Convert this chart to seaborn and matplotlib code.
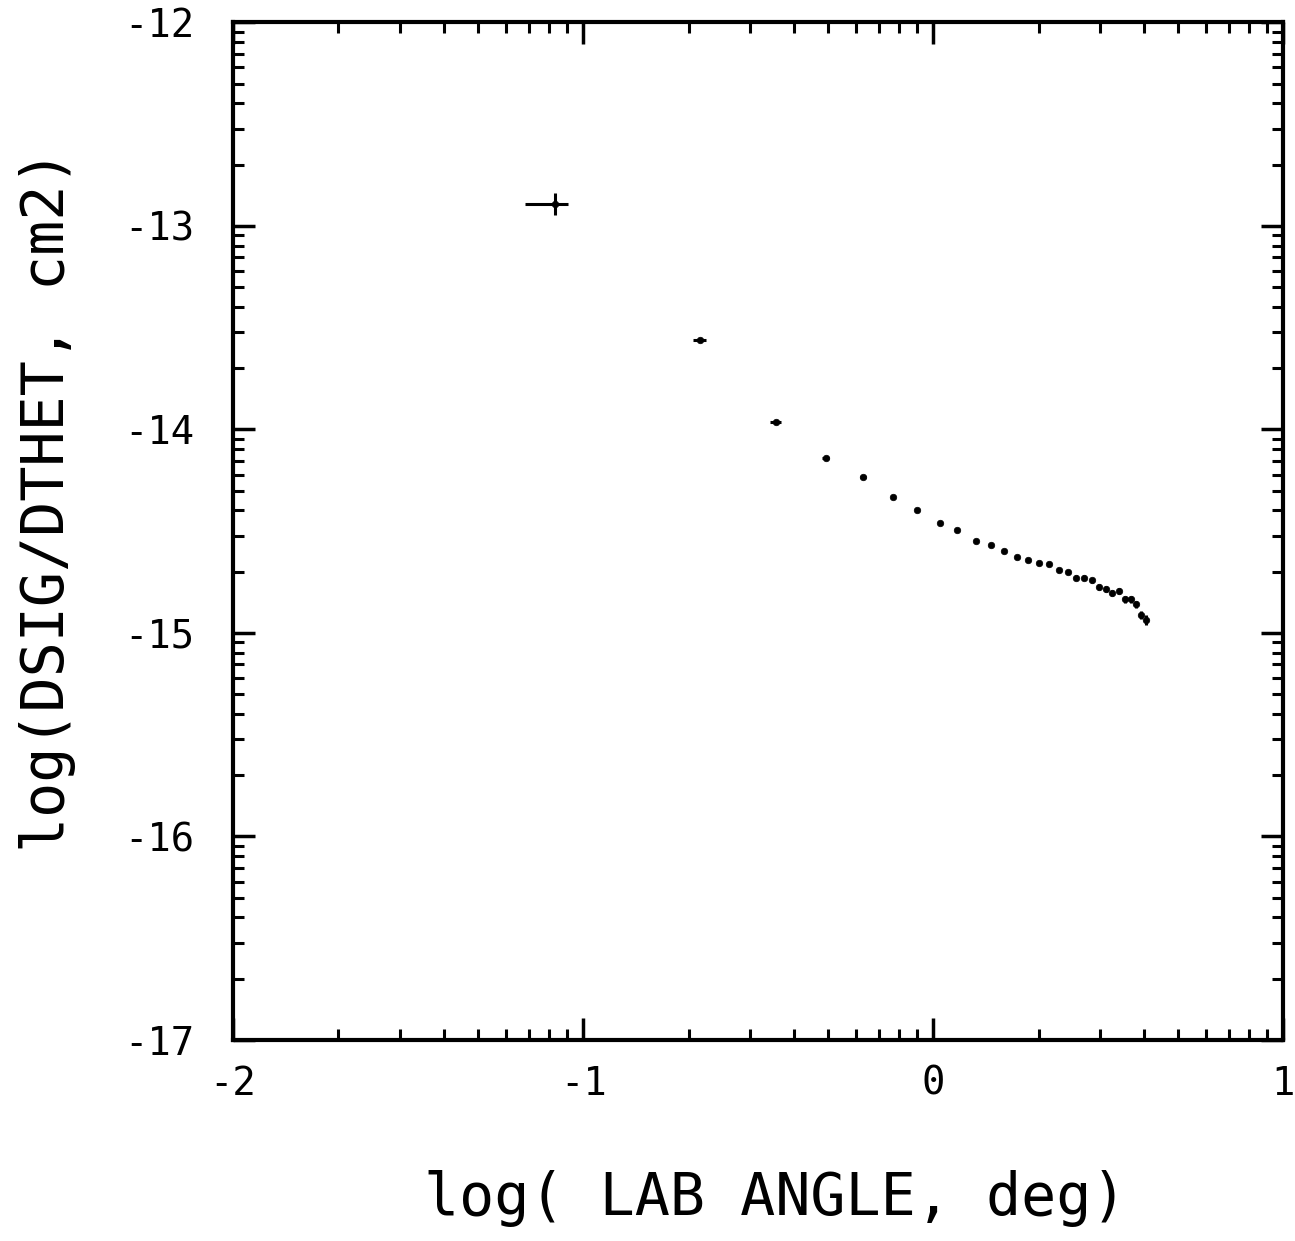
import numpy as np
import pandas as pd
import matplotlib
matplotlib.use("Agg")
import matplotlib.pyplot as plt
import seaborn as sns
from matplotlib.ticker import FixedLocator, NullFormatter

# ---- data ----
log_angle = [-1.080, -0.666, -0.449, -0.307, -0.200, -0.115, -0.046, 0.018,
             0.067, 0.121, 0.164, 0.202, 0.238, 0.271, 0.301, 0.331, 0.358,
             0.384, 0.409, 0.431, 0.453, 0.473, 0.492, 0.511, 0.531, 0.547,
             0.564, 0.579, 0.594, 0.608]
log_dsig = [-12.894, -13.562, -13.965, -14.140, -14.233, -14.332, -14.397,
            -14.459, -14.495, -14.546, -14.570, -14.598, -14.628, -14.642,
            -14.657, -14.661, -14.690, -14.701, -14.729, -14.729, -14.742,
            -14.774, -14.785, -14.805, -14.795, -14.835, -14.835, -14.860,
            -14.912, -14.937]
xerr_low = [0.086, 0.020, 0.016, 0.010, 0.008, 0.006, 0.005, 0.005, 0.004,
            0.004, 0.004, 0.004, 0.004, 0.004, 0.004, 0.004, 0.003, 0.003,
            0.003, 0.003, 0.003, 0.003, 0.003, 0.003, 0.003, 0.003, 0.003,
            0.003, 0.003, 0.003]
xerr_high = [0.037, 0.018, 0.015, 0.009, 0.007, 0.006, 0.005, 0.004, 0.004,
             0.004, 0.004, 0.004, 0.003, 0.003, 0.003, 0.003, 0.003, 0.003,
             0.003, 0.003, 0.003, 0.003, 0.003, 0.003, 0.003, 0.003, 0.003,
             0.003, 0.003, 0.003]
yerr = [0.055, 0.008, 0.008, 0.008, 0.008, 0.008, 0.008, 0.008, 0.010,
        0.008, 0.008, 0.008, 0.008, 0.008, 0.010, 0.010, 0.010, 0.012,
        0.012, 0.012, 0.012, 0.014, 0.014, 0.015, 0.015, 0.018, 0.018,
        0.018, 0.022, 0.025]

xticks = [-2, -1, 0, 1]
xticklabels = ["-2", "-1", "0", "1"]
yticks = [-17, -16, -15, -14, -13, -12]
yticklabels = ["-17", "-16", "-15", "-14", "-13", "-12"]
xlabel = "log( LAB ANGLE, deg)"
ylabel = "log(DSIG/DTHET, cm2)"

df = pd.DataFrame({"x": log_angle, "y": log_dsig})

sns.set_theme(style="ticks")
plt.rcParams["font.family"] = ["DejaVu Sans Mono", "DejaVu Sans"]

fig = plt.figure(figsize=(12.95, 12.41), dpi=100)
ax = fig.add_axes([0.180, 0.162, 0.811, 0.820])

ax.errorbar(df["x"], df["y"], xerr=[xerr_low, xerr_high], yerr=yerr,
            fmt="none", ecolor="black", elinewidth=2.2, capsize=0)
sns.scatterplot(data=df, x="x", y="y", ax=ax, color="black", s=22,
                edgecolor="black", linewidth=0.5, marker="o", legend=False)

ax.set_xlim(-2, 1)
ax.set_ylim(-17, -12)

# log-decade minor tick positions
dec = np.log10(np.arange(2, 10))
xminor = [d + v for d in range(-2, 1) for v in dec]
yminor = [d + v for d in range(-17, -12) for v in dec]

tick_font = ["Liberation Sans Narrow", "DejaVu Sans Mono"]
ax.set_xticks(xticks)
ax.set_xticklabels(xticklabels, family=tick_font, fontsize=28)
ax.set_yticks(yticks)
ax.set_yticklabels(yticklabels, family=tick_font, fontsize=28)
ax.xaxis.set_minor_locator(FixedLocator(xminor))
ax.yaxis.set_minor_locator(FixedLocator(yminor))
ax.xaxis.set_minor_formatter(NullFormatter())
ax.yaxis.set_minor_formatter(NullFormatter())

ax.tick_params(which="both", direction="in", top=True, right=True,
               color="black")
ax.tick_params(which="major", length=16, width=2.5, labelcolor="black")
ax.tick_params(which="minor", length=8, width=2.2)
ax.tick_params(axis="y", which="major", pad=28)
ax.tick_params(axis="x", which="major", pad=18)

for sp in ax.spines.values():
    sp.set_visible(True)
    sp.set_linewidth(3.0)
    sp.set_color("black")

ax.set_xlabel(xlabel, fontsize=42, color="black")
ax.set_ylabel(ylabel, fontsize=42, color="black")
ax.xaxis.set_label_coords(0.516, -0.128)
ax.yaxis.set_label_coords(-0.150, 0.530)
ax.grid(False)
ax.set_facecolor("white")
fig.patch.set_facecolor("white")

fig.savefig("out.png", dpi=100, facecolor="white")
